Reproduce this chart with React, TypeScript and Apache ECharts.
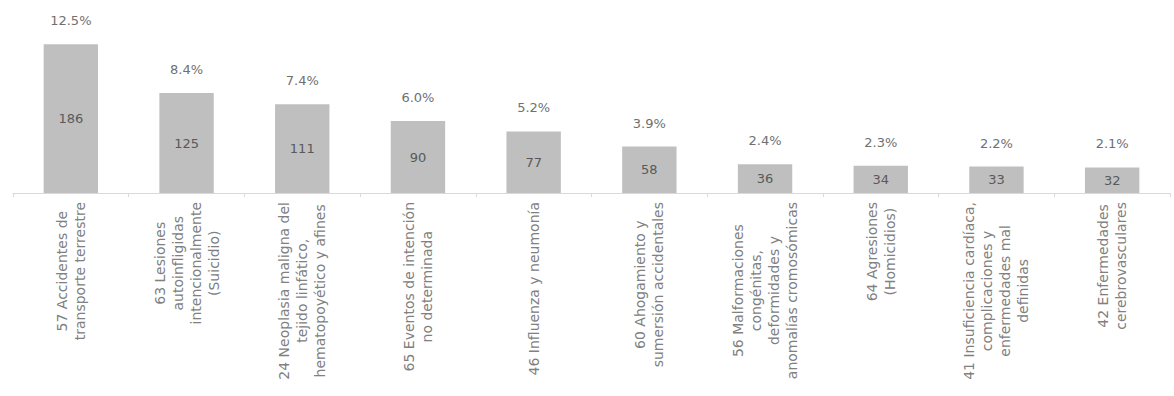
import React, { useEffect, useRef } from "react";
import * as echarts from "echarts";

const categories = [
  "57 Accidentes de\ntransporte terrestre",
  "63 Lesiones\nautoinfligidas\nintencionalmente\n(Suicidio)",
  "24 Neoplasia maligna del\ntejido linfático,\nhematopoyético y afines",
  "65 Eventos de intención\nno determinada",
  "46 Influenza y neumonía",
  "60 Ahogamiento y\nsumersión accidentales",
  "56 Malformaciones\ncongénitas,\ndeformidades y\nanomalías cromosómicas",
  "64 Agresiones\n(Homicidios)",
  "41 Insuficiencia cardíaca,\ncomplicaciones y\nenfermedades mal\ndefinidas",
  "42 Enfermedades\ncerebrovasculares",
];
const counts = [186, 125, 111, 90, 77, 58, 36, 34, 33, 32];
const percents = ["12.5%", "8.4%", "7.4%", "6.0%", "5.2%", "3.9%", "2.4%", "2.3%", "2.2%", "2.1%"];

const FONT = "DejaVu Sans";

export default function App() {
  const ref = useRef<HTMLDivElement>(null);
  useEffect(() => {
    if (!ref.current) return;
    const chart = echarts.init(ref.current, undefined, { renderer: "svg" });
    chart.setOption({
      animation: false,
      backgroundColor: "#ffffff",
      grid: { left: 13, right: 4, top: 33, bottom: 203, containLabel: false },
      xAxis: {
        type: "category",
        data: categories,
        boundaryGap: true,
        axisLine: { lineStyle: { color: "#d9d9d9", width: 1 } },
        axisTick: { show: true, length: 4, lineStyle: { color: "#d9d9d9" } },
        axisLabel: {
          interval: 0,
          rotate: 90,
          margin: 9,
          color: "#808080",
          fontFamily: FONT,
          fontSize: 14,
          lineHeight: 18,
          formatter: (v: string) =>
            v.split("\n").map((l) => `{c|${l}}`).join("\n"),
          rich: {
            c: {
              align: "center",
              color: "#808080",
              fontFamily: FONT,
              fontSize: 14,
              lineHeight: 18,
            },
          },
        },
      },
      yAxis: {
        type: "value",
        min: 0,
        max: 200,
        show: false,
        splitLine: { show: false },
      },
      series: [
        {
          type: "bar",
          data: counts,
          barWidth: "47%",
          itemStyle: { color: "#bfbfbf" },
          label: {
            show: true,
            position: "inside",
            color: "#595959",
            fontFamily: FONT,
            fontSize: 13,
          },
        },
        {
          type: "bar",
          data: counts,
          barWidth: "47%",
          barGap: "-100%",
          itemStyle: { color: "rgba(0,0,0,0)" },
          silent: true,
          label: {
            show: true,
            position: "top",
            distance: 17,
            color: "#707070",
            fontFamily: FONT,
            fontSize: 13,
            formatter: (p: any) => percents[p.dataIndex],
          },
        },
      ],
    });
    return () => chart.dispose();
  }, []);
  return (
    <div
      ref={ref}
      style={{ position: "fixed", left: 0, top: 0, width: 1174, height: 396 }}
    />
  );
}
